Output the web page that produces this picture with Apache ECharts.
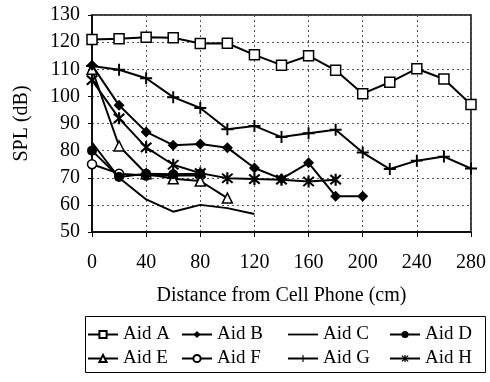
<!DOCTYPE html>
<html><head><meta charset="utf-8">
<script src="https://cdn.jsdelivr.net/npm/echarts@6/dist/echarts.min.js"></script>
<style>html,body{margin:0;padding:0;background:#fff}#c{width:490px;height:382px}</style>
</head><body><div id="c"></div>
<script>
const distance = [0,20,40,60,80,100,120,140,160,180,200,220,240,260,280];
const yTicks = [50,60,70,80,90,100,110,120,130];
const xTicks = [0,40,80,120,160,200,240,280];
const seriesNames = ['Aid A','Aid B','Aid C','Aid D','Aid E','Aid F','Aid G','Aid H'];
const aidA = [121,121.2,121.8,121.6,119.5,119.6,115.3,111.5,115,109.6,101,105.2,110.2,106.4,97];
const aidB = [111.5,96.7,86.9,82,82.4,81.1,73.6,69.6,75.5,63.2,63.2];
const aidC = [83,70,62,57.5,60,58.8,56.6];
const aidD = [80,70.3,71.5,71.3,71.5];
const aidE = [110,81.7,71.5,69.6,68.8,62.5];
const aidF = [75,71.5,70.8,70.8,70.8];
const aidG = [111.2,109.8,106.7,99.7,95.7,87.9,89.1,85,86.4,87.7,79.3,73.2,76.3,77.8,73.4];
const aidH = [106,91.9,81.2,74.8,71.7,69.8,69.5,69.3,68.6,69.3];

const FONT = '"Liberation Serif","DejaVu Serif",serif';
const plusPath = 'path://M4.2,0H5.8V10H4.2Z M0,4.2H10V5.8H0Z';
const starPath = 'path://M4.2,0H5.8V10H4.2Z M0.6,1.7L1.7,0.6L9.4,8.3L8.3,9.4Z M8.3,0.6L9.4,1.7L1.7,9.4L0.6,8.3Z';
const linePath = 'path://M0,0H30V1.8H0Z';

const styles = [
  {data: aidA, symbol: 'rect', size: 10, fill: '#fff'},
  {data: aidB, symbol: 'diamond', size: 11, fill: '#000'},
  {data: aidC, symbol: 'none', size: 0, fill: '#000'},
  {data: aidD, symbol: 'circle', size: 10, fill: '#000'},
  {data: aidE, symbol: 'triangle', size: 10, fill: '#fff'},
  {data: aidF, symbol: 'circle', size: 9, fill: '#fff'},
  {data: aidG, symbol: plusPath, size: 12, fill: '#000'},
  {data: aidH, symbol: starPath, size: 12, fill: '#000'}
];

const series = styles.map((s, i) => ({
  name: seriesNames[i],
  type: 'line',
  data: s.data.map((v, k) => [distance[k], v]),
  symbol: s.symbol,
  symbolSize: s.size,
  showSymbol: s.symbol !== 'none',
  lineStyle: {color: '#000', width: 2},
  itemStyle: {color: s.fill, borderColor: '#000', borderWidth: (s.fill === '#fff') ? 1.5 : 0},
  z: 10 - i,
  animation: false
}));

const legendData = seriesNames.map(n => n === 'Aid C' ? {name: n, icon: linePath} : {name: n});
const legendLefts = [82, 176, 282, 384];

const chart = echarts.init(document.getElementById('c'), null, {renderer: 'canvas'});
const legendCommon = {
  orient: 'vertical', top: 320, itemWidth: 30, itemHeight: 9, itemGap: 5,
  textStyle: {fontFamily: FONT, fontSize: 19, color: '#000'}
};
chart.setOption({
  animation: false,
  backgroundColor: '#fff',
  grid: {left: 92, right: 19, top: 15, bottom: 150, show: true, borderColor: '#000', borderWidth: 1.5},
  xAxis: {
    type: 'value', min: xTicks[0], max: xTicks[xTicks.length - 1], interval: 40,
    name: 'Distance from Cell Phone (cm)', nameLocation: 'middle', nameGap: 54,
    nameTextStyle: {fontFamily: FONT, fontSize: 20, color: '#000'},
    axisLine: {lineStyle: {color: '#000', width: 1.5}},
    axisTick: {show: true, length: 5, inside: false, lineStyle: {color: '#000'}},
    axisLabel: {fontFamily: FONT, fontSize: 20, color: '#000', margin: 21},
    splitLine: {show: true, lineStyle: {type: [2, 3], color: '#555', width: 1}}
  },
  yAxis: {
    type: 'value', min: yTicks[0], max: yTicks[yTicks.length - 1], interval: 10,
    name: 'SPL (dB)', nameLocation: 'middle', nameGap: 60,
    nameTextStyle: {fontFamily: FONT, fontSize: 20, color: '#000'},
    axisLine: {show: true, lineStyle: {color: '#000', width: 1.5}},
    axisTick: {show: true, length: 4, lineStyle: {color: '#000'}},
    axisLabel: {fontFamily: FONT, fontSize: 20, color: '#000', margin: 12},
    splitLine: {show: true, lineStyle: {type: [2, 3], color: '#555', width: 1}}
  },
  legend: legendLefts.map((l, c) => Object.assign({}, legendCommon, {
    left: l, data: [legendData[c], legendData[c + 4]]
  })),
  graphic: [{
    type: 'rect', left: 83, top: 314, shape: {width: 400, height: 56},
    style: {fill: 'none', stroke: '#000', lineWidth: 1}, silent: true
  }],
  series: series
});
</script></body></html>
